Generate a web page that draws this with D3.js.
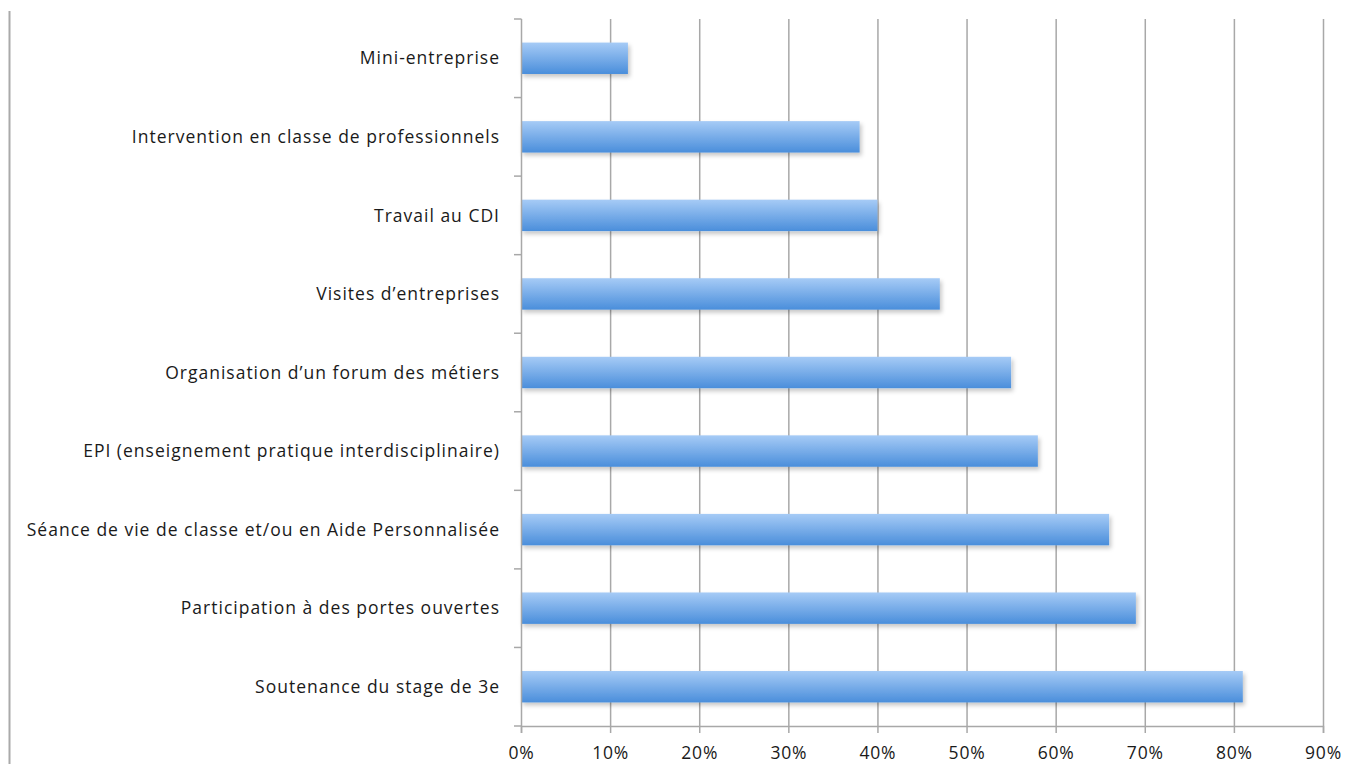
<!DOCTYPE html>
<html>
<head>
<meta charset="utf-8">
<script src="https://cdn.jsdelivr.net/npm/d3@7"></script>
<style>
  body { margin: 0; background: #fff; }
  svg { display: block; }
  text { font-family: "Open Sans", sans-serif; fill: #1a1a1a; }
</style>
</head>
<body>
<div id="chart"></div>
<script>
// categories top to bottom, values in %
var categories = [
    "Mini-entreprise",
    "Intervention en classe de professionnels",
    "Travail au CDI",
    "Visites d\u2019entreprises",
    "Organisation d\u2019un forum des m\u00e9tiers",
    "EPI (enseignement pratique interdisciplinaire)",
    "S\u00e9ance de vie de classe et/ou en Aide Personnalis\u00e9e",
    "Participation \u00e0 des portes ouvertes",
    "Soutenance du stage de 3e"
];
var values = [12, 38, 40, 47, 55, 58, 66, 69, 81];
var xTicks = [0, 10, 20, 30, 40, 50, 60, 70, 80, 90];

var W = 1355, H = 764;
var margin = { top: 19, right: 32, bottom: 38, left: 521 };
var width = W - margin.left - margin.right,
    height = H - margin.top - margin.bottom;

var svg = d3.select("#chart").append("svg")
    .attr("width", W)
    .attr("height", H);

// frame line on the far left
svg.append("line")
    .attr("x1", 9.5).attr("x2", 9.5)
    .attr("y1", 11).attr("y2", 764)
    .attr("stroke", "#aaa").attr("stroke-width", 2);

var defs = svg.append("defs");
var grad = defs.append("linearGradient")
    .attr("id", "barGrad")
    .attr("x1", 0).attr("y1", 0).attr("x2", 0).attr("y2", 1);
grad.append("stop").attr("offset", "0%").attr("stop-color", "#a6cbf6");
grad.append("stop").attr("offset", "100%").attr("stop-color", "#4a8edb");

var shadow = defs.append("filter").attr("id", "shadow")
    .attr("x", "-5%").attr("y", "-20%").attr("width", "110%").attr("height", "160%");
shadow.append("feDropShadow")
    .attr("dx", 2).attr("dy", 3).attr("stdDeviation", 2)
    .attr("flood-color", "#000").attr("flood-opacity", 0.22);

var g = svg.append("g")
    .attr("transform", "translate(" + margin.left + "," + margin.top + ")");

var x = d3.scaleLinear().domain([0, 90]).range([0, 802]);
var y = d3.scaleBand().domain(categories).range([0, height]).paddingInner(0.6).paddingOuter(0.3);

// gridlines
g.append("g")
    .selectAll("line")
    .data(xTicks.slice(1))
    .enter().append("line")
    .attr("x1", function (d) { return x(d) + 0.5 })
    .attr("x2", function (d) { return x(d) + 0.5 })
    .attr("y1", 0)
    .attr("y2", height)
    .attr("stroke", "#a8a8a8")
    .attr("stroke-width", 1.5);

// bars
g.append("g")
    .selectAll("rect")
    .data(values)
    .enter().append("rect")
    .attr("x", 0)
    .attr("y", function (d, i) { return y(categories[i]) })
    .attr("width", function (d) { return x(d) })
    .attr("height", y.bandwidth())
    .attr("fill", "url(#barGrad)")
    .attr("filter", "url(#shadow)");

// x axis
var xAxis = g.append("g")
    .attr("transform", "translate(0," + height + ")")
    .call(d3.axisBottom(x).tickValues(xTicks).tickSize(7).tickPadding(14)
        .tickFormat(function (d) { return d + "%" }));
xAxis.select(".domain").attr("stroke", "#a8a8a8").attr("stroke-width", 1.5);
xAxis.selectAll(".tick line").attr("stroke", "#a8a8a8").attr("stroke-width", 1.5);
xAxis.selectAll(".tick text")
    .style("font-size", "17.5px")
    .style("letter-spacing", "0.8px")
    .attr("fill", "#1a1a1a");

// y axis: ticks between categories
var step = y.step();
var yAxisG = g.append("g");
yAxisG.append("line")
    .attr("x1", 0.5).attr("x2", 0.5)
    .attr("y1", 0).attr("y2", height)
    .attr("stroke", "#a8a8a8").attr("stroke-width", 1.5);
var bounds = d3.range(categories.length + 1).map(function (i) {
    return i === categories.length ? height : y(categories[i]) - y.paddingInner() * step / 2;
});
bounds[0] = 0;
yAxisG.selectAll(".bt")
    .data(bounds)
    .enter().append("line")
    .attr("x1", -7).attr("x2", 0.5)
    .attr("y1", function (d) { return d })
    .attr("y2", function (d) { return d })
    .attr("stroke", "#a8a8a8").attr("stroke-width", 1.5);

yAxisG.selectAll(".lbl")
    .data(categories)
    .enter().append("text")
    .attr("x", -21)
    .attr("y", function (d) { return y(d) + y.bandwidth() / 2 })
    .attr("dy", "0.35em")
    .attr("text-anchor", "end")
    .style("font-size", "17.5px")
    .style("letter-spacing", "1px")
    .text(function (d) { return d });
</script>
</body>
</html>
